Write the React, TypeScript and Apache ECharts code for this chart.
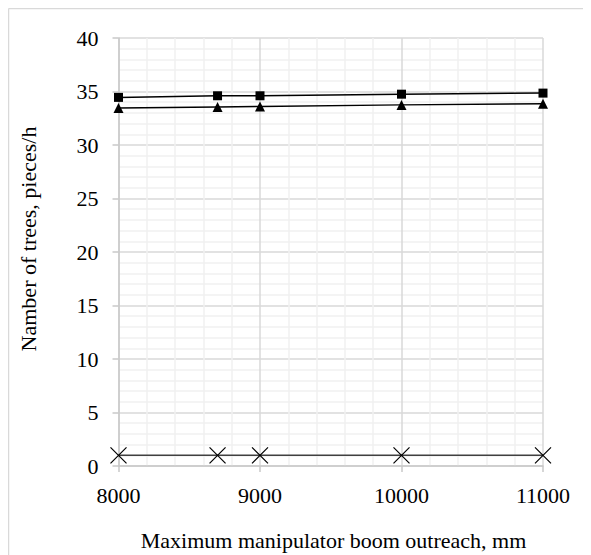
import React, { useEffect, useRef } from "react";
import * as echarts from "echarts";

const outreach = [8000, 8700, 9000, 10000, 11000];
const squareValues = [34.45, 34.6, 34.6, 34.75, 34.85];
const triangleValues = [33.45, 33.55, 33.6, 33.75, 33.85];
const crossValues = [1, 1, 1, 1, 1];
const xTitle = "Maximum manipulator boom outreach, mm";
const yTitle = "Namber of trees, pieces/h";

const FONT = "Liberation Serif";

export default function App() {
  const ref = useRef<HTMLDivElement>(null);
  useEffect(() => {
    if (!ref.current) return;
    const chart = echarts.init(ref.current, undefined, { renderer: "svg" });
    const pts = (vals: number[]) => outreach.map((x, i) => [x, vals[i]]);
    chart.setOption({
      animation: false,
      backgroundColor: "#ffffff",
      textStyle: { fontFamily: FONT },
      grid: { left: 110.5, right: 48, top: 30, bottom: 89 },
      xAxis: {
        type: "value",
        min: 8000,
        max: 11000,
        interval: 1000,
        axisLine: { show: true, lineStyle: { color: "#c8c8c8", width: 1.5 } },
        axisTick: { show: true, length: 6, lineStyle: { color: "#c8c8c8", width: 1.5 } },
        axisLabel: {
          color: "#000",
          fontFamily: FONT,
          fontSize: 22,
          margin: 18,
          formatter: (v: number) => String(v),
        },
        splitLine: { show: true, lineStyle: { color: "#d9d9d9", width: 1.5 } },
        minorTick: { show: false, splitNumber: 5 },
        minorSplitLine: { show: true, lineStyle: { color: "#f0f0f0", width: 1.5 } },
      },
      yAxis: {
        type: "value",
        min: 0,
        max: 40,
        interval: 5,
        axisLine: { show: true, lineStyle: { color: "#c8c8c8", width: 1.5 } },
        axisTick: { show: true, length: 6, lineStyle: { color: "#c8c8c8", width: 1.5 } },
        axisLabel: { color: "#000", fontFamily: FONT, fontSize: 22, margin: 20 },
        splitLine: { show: true, lineStyle: { color: "#d9d9d9", width: 1.5 } },
        minorTick: { show: false, splitNumber: 5 },
        minorSplitLine: { show: true, lineStyle: { color: "#f0f0f0", width: 1.5 } },
      },
      series: [
        {
          type: "line",
          data: pts(squareValues),
          symbol: "rect",
          symbolSize: 9,
          lineStyle: { color: "#000", width: 1.5 },
          itemStyle: { color: "#000" },
        },
        {
          type: "line",
          data: pts(triangleValues),
          symbol: "triangle",
          symbolSize: 10,
          lineStyle: { color: "#000", width: 1.5 },
          itemStyle: { color: "#000" },
        },
        {
          type: "line",
          data: pts(crossValues),
          symbol: "path://M0,0L10,10M10,0L0,10",
          symbolSize: 16,
          lineStyle: { color: "#404040", width: 1.5 },
          itemStyle: { color: "none", borderColor: "#000", borderWidth: 1.2 },
        },
      ],
      graphic: [
        {
          type: "line",
          shape: { x1: 0.5, y1: 0.5, x2: 583, y2: 0.5 },
          style: { stroke: "#d9d9d9", lineWidth: 1.5 },
        },
        {
          type: "line",
          shape: { x1: 0.5, y1: 0.5, x2: 0.5, y2: 547 },
          style: { stroke: "#d9d9d9", lineWidth: 1.5 },
        },
        {
          type: "text",
          x: 325.5,
          y: 532,
          style: {
            text: xTitle,
            fill: "#000",
            fontFamily: FONT,
            fontSize: 22,
            align: "center",
            verticalAlign: "middle",
          },
        },
        {
          type: "text",
          x: 20,
          y: 231,
          rotation: Math.PI / 2,
          style: {
            text: yTitle,
            fill: "#000",
            fontFamily: FONT,
            fontSize: 22,
            align: "center",
            verticalAlign: "middle",
          },
        },
      ],
    });
    return () => chart.dispose();
  }, []);
  return <div ref={ref} style={{ width: 583, height: 547 }} />;
}
